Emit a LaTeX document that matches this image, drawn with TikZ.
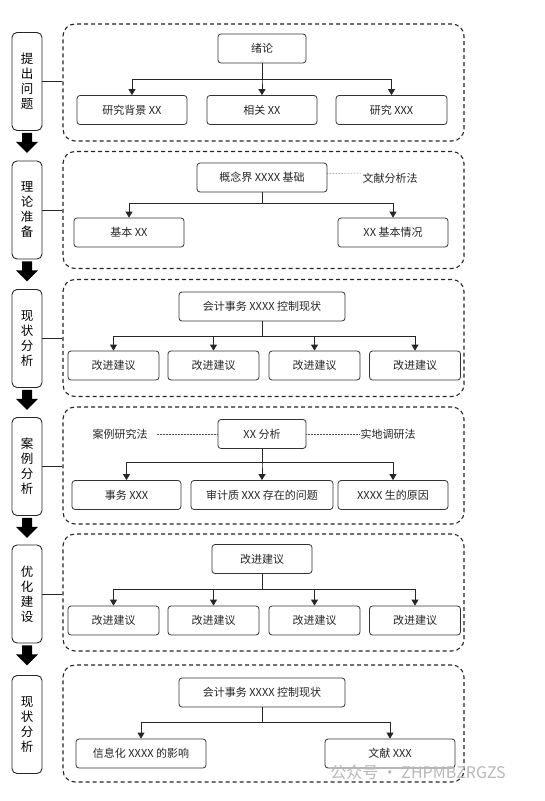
\documentclass[tikz,border=0pt]{standalone}
\usepackage{fontspec}
\setmainfont{Noto Sans CJK SC}
\usetikzlibrary{arrows.meta,calc}
\tikzset{
  stage/.style={draw=black!85, line width=0.9pt, rounded corners=5pt, minimum width=30pt, minimum height=98pt, inner sep=0pt, align=center, font=\fontsize{12.5}{15}\selectfont},
  panel/.style={draw=black!85, line width=1.1pt, dash pattern=on 4pt off 3pt, rounded corners=12pt, minimum width=401pt, minimum height=117pt, inner sep=0pt},
  box/.style={draw=black!80, line width=0.8pt, rounded corners=3pt, minimum height=29pt, inner sep=0pt, font=\fontsize{11}{13}\selectfont, text=black!85},
  arr/.style={draw=black!85, line width=0.8pt, -{Triangle[length=6pt,width=7pt]}},
  link/.style={draw=black!85, line width=0.8pt},
  note/.style={draw=black!70, line width=0.5pt, densely dotted},
  method/.style={font=\fontsize{11}{13}\selectfont, text=black!85, inner sep=1pt},
}
\begin{document}
\begin{tikzpicture}[x=1pt,y=-1pt]
      \fill [white] (0,0) rectangle (545,801);
      \node [stage] (s1) at (27,81.5) {提\\出\\问\\题};
      \node [stage] (s2) at (27,210) {理\\论\\准\\备};
      \node [stage] (s3) at (27,338.5) {现\\状\\分\\析};
      \node [stage] (s4) at (27,466.5) {案\\例\\分\\析};
      \node [stage] (s5) at (27,594) {优\\化\\建\\设};
      \node [stage] (s6) at (27,724.5) {现\\状\\分\\析};
      \foreach \s in {s1,s2,s3,s4,s5}
        \fill [black] ($(\s.south)+(-5,2)$) -- ++(10,0) -- ++(0,9) -- ++(6,0) -- ++(-11,11) -- ++(-11,-11) -- ++(6,0) -- cycle;
      \node [panel] (p1) at (263.5,82.5) {};
      \node [panel] (p2) at (263.5,210) {};
      \node [panel] (p3) at (263.5,338) {};
      \node [panel] (p4) at (263.5,465.5) {};
      \node [panel] (p5) at (263.5,592.5) {};
      \node [panel] (p6) at (263.5,723.5) {};
      \foreach \i in {1,...,5}
        \draw [link] (s\i.east) -- (s\i.east -| p\i.west);

      \node [box, minimum width=88pt] (t1) at (262,48.5) {绪论};
      \node [box, minimum width=110pt] (a1) at (132,110) {研究背景 XX};
      \node [box, minimum width=110pt] (a2) at (262,110) {相关 XX};
      \node [box, minimum width=111pt] (a3) at (391.5,110) {研究 XXX};
      \coordinate (br1) at (0,79);
      \foreach \c in {a1,a2,a3}
        \draw [arr] (t1.south) -- (t1.south |- br1) -| (\c.north);

      \node [box, minimum width=130pt] (t2) at (262,177.5) {概念界 XXXX 基础};
      \node [method] (m2) at (390,178) {文献分析法};
      \draw [note] ($(t2.east)+(0,-4)$) -- ($(m2.west)+(0,-5)$);
      \node [box, minimum width=110pt] (b1) at (129,232.5) {基本 XX};
      \node [box, minimum width=110pt] (b2) at (393,232.5) {XX 基本情况};
      \coordinate (br2) at (0,203);
      \foreach \c in {b1,b2}
        \draw [arr] (t2.south) -- (t2.south |- br2) -| (\c.north);

      \node [box, minimum width=166pt] (t3) at (262,306.5) {会计事务 XXXX 控制现状};
      \node [box, minimum width=91pt] (c1) at (113.5,365.5) {改进建议};
      \node [box, minimum width=91pt] (c2) at (213.5,365.5) {改进建议};
      \node [box, minimum width=91pt] (c3) at (314.5,365.5) {改进建议};
      \node [box, minimum width=91pt] (c4) at (415,365.5) {改进建议};
      \coordinate (br3) at (0,336);
      \foreach \c in {c1,c2,c3,c4}
        \draw [arr] (t3.south) -- (t3.south |- br3) -| (\c.north);

      \node [box, minimum width=88pt] (t4) at (262,434) {XX 分析};
      \node [method] (m4a) at (120,434) {案例研究法};
      \node [method] (m4b) at (388,434) {实地调研法};
      \draw [note] ($(m4a.east)+(8,0)$) -- (t4.west);
      \draw [note] (t4.east) -- (m4b.west);
      \node [box, minimum width=109pt] (d1) at (126.5,495) {事务 XXX};
      \node [box, minimum width=142pt] (d2) at (262,495) {审计质 XXX 存在的问题};
      \node [box, minimum width=110pt] (d3) at (393,495) {XXXX 生的原因};
      \coordinate (br4) at (0,462);
      \foreach \c in {d1,d2,d3}
        \draw [arr] (t4.south) -- (t4.south |- br4) -| (\c.north);

      \node [box, minimum width=100pt] (t5) at (262,559) {改进建议};
      \node [box, minimum width=91pt] (e1) at (113.5,620.5) {改进建议};
      \node [box, minimum width=91pt] (e2) at (213.5,620.5) {改进建议};
      \node [box, minimum width=91pt] (e3) at (314.5,620.5) {改进建议};
      \node [box, minimum width=91pt] (e4) at (415,620.5) {改进建议};
      \coordinate (br5) at (0,589);
      \foreach \c in {e1,e2,e3,e4}
        \draw [arr] (t5.south) -- (t5.south |- br5) -| (\c.north);

      \node [box, minimum width=166pt] (t6) at (262,692.5) {会计事务 XXXX 控制现状};
      \node [box, minimum width=130pt] (f1) at (141,753.5) {信息化 XXXX 的影响};
      \node [box, minimum width=130pt] (f2) at (390,753.5) {文献 XXX};
      \coordinate (br6) at (0,722);
      \foreach \c in {f1,f2}
        \draw [arr] (t6.south) -- (t6.south |- br6) -| (\c.north);

      \node [text=black!28, font=\fontsize{16}{18}\selectfont] (wm) at (418,772) {公众号 · ZHPMBZRGZS};
\end{tikzpicture}
\end{document}
